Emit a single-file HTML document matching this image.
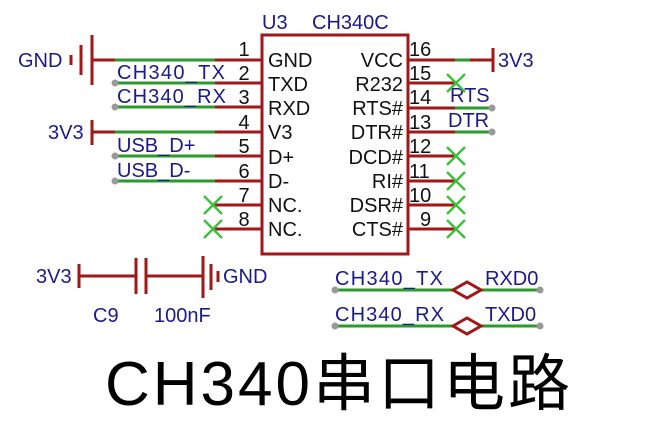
<!DOCTYPE html>
<html><head><meta charset="utf-8"><style>
body{margin:0;background:#fff}
svg{display:block}
text{font-family:"Liberation Sans","Noto Sans CJK SC",sans-serif}
.b{fill:#1a1a8c;font-size:20px}
.k{fill:#111;font-size:20px}
.r{stroke:#a01818;stroke-width:3;fill:none}
.g{stroke:#2a9a2a;stroke-width:3;fill:none}
.x{stroke:#3cc03c;stroke-width:2.5}
.d{fill:#999}
</style></head><body>
<svg width="672" height="433" viewBox="0 0 672 433">
<rect x="262" y="35" width="146" height="219" class="r"/>
<text x="262" y="29" class="b">U3</text>
<text x="312" y="29" class="b">CH340C</text>
<g>
<line x1="215" y1="60" x2="262" y2="60" class="r"/><line x1="92" y1="60" x2="115" y2="60" class="r"/><line x1="115" y1="60" x2="215" y2="60" class="g"/>
<line x1="215" y1="83" x2="262" y2="83" class="r"/><line x1="115" y1="83" x2="215" y2="83" class="g"/>
<line x1="215" y1="107" x2="262" y2="107" class="r"/><line x1="115" y1="107" x2="215" y2="107" class="g"/>
<line x1="215" y1="132" x2="262" y2="132" class="r"/><line x1="92" y1="132" x2="115" y2="132" class="r"/><line x1="115" y1="132" x2="215" y2="132" class="g"/>
<line x1="215" y1="156" x2="262" y2="156" class="r"/><line x1="115" y1="156" x2="215" y2="156" class="g"/>
<line x1="215" y1="181" x2="262" y2="181" class="r"/><line x1="115" y1="181" x2="215" y2="181" class="g"/>
<line x1="213" y1="205" x2="262" y2="205" class="r"/>
<line x1="213" y1="229" x2="262" y2="229" class="r"/>
</g>
<circle cx="115" cy="83" r="3.5" class="d"/><circle cx="115" cy="107" r="3.5" class="d"/>
<circle cx="115" cy="156" r="3.5" class="d"/><circle cx="115" cy="181" r="3.5" class="d"/>
<g class="x"><line x1="204" y1="196" x2="222" y2="214"/><line x1="222" y1="196" x2="204" y2="214"/>
<line x1="204" y1="220" x2="222" y2="238"/><line x1="222" y1="220" x2="204" y2="238"/></g>
<line x1="92" y1="35" x2="92" y2="85" class="r"/><line x1="81" y1="45" x2="81" y2="75" class="r"/><line x1="71" y1="55" x2="71" y2="65" class="r"/>
<text x="18" y="67" class="b">GND</text>
<line x1="92" y1="120" x2="92" y2="145" class="r"/>
<text x="48" y="139" class="b">3V3</text>
<text x="117" y="79" class="b" textLength="108">CH340_TX</text>
<text x="117" y="103" class="b" textLength="109">CH340_RX</text>
<text x="117" y="152" class="b">USB_D+</text>
<text x="117" y="177" class="b">USB_D-</text>
<g class="k" text-anchor="middle">
<text x="244" y="56">1</text><text x="244" y="80">2</text><text x="244" y="104">3</text><text x="244" y="129">4</text>
<text x="244" y="153">5</text><text x="244" y="178">6</text><text x="244" y="202">7</text><text x="244" y="226">8</text>
</g>
<g class="k">
<text x="268" y="67">GND</text><text x="268" y="91">TXD</text><text x="268" y="115">RXD</text><text x="268" y="139">V3</text>
<text x="268" y="164">D+</text><text x="268" y="188">D-</text><text x="268" y="212">NC.</text><text x="268" y="236">NC.</text>
</g>
<g class="k" text-anchor="end">
<text x="403" y="67">VCC</text><text x="403" y="91">R232</text><text x="403" y="115">RTS#</text><text x="403" y="139">DTR#</text>
<text x="403" y="164">DCD#</text><text x="403" y="188">RI#</text><text x="403" y="212">DSR#</text><text x="403" y="236">CTS#</text>
</g>
<g class="k">
<text x="409" y="56">16</text><text x="409" y="80">15</text><text x="409" y="104">14</text><text x="409" y="129">13</text>
<text x="409" y="153">12</text><text x="409" y="178">11</text><text x="409" y="202">10</text><text x="420" y="226">9</text>
</g>
<line x1="408" y1="60" x2="493" y2="60" class="r"/><line x1="455" y1="60" x2="470" y2="60" class="g"/>
<line x1="493" y1="48" x2="493" y2="72" class="r"/>
<text x="498" y="67" class="b">3V3</text>
<line x1="408" y1="83" x2="456" y2="83" class="r"/>
<line x1="408" y1="108" x2="455" y2="108" class="r"/><line x1="455" y1="108" x2="492" y2="108" class="g"/>
<line x1="408" y1="132" x2="455" y2="132" class="r"/><line x1="455" y1="132" x2="492" y2="132" class="g"/>
<circle cx="492" cy="108" r="3.5" class="d"/><circle cx="492" cy="132" r="3.5" class="d"/>
<text x="450" y="102" class="b">RTS</text><text x="448" y="127" class="b">DTR</text>
<line x1="408" y1="156" x2="456" y2="156" class="r"/><line x1="408" y1="181" x2="456" y2="181" class="r"/>
<line x1="408" y1="205" x2="456" y2="205" class="r"/><line x1="408" y1="229" x2="456" y2="229" class="r"/>
<g class="x">
<line x1="447" y1="74" x2="465" y2="92"/><line x1="465" y1="74" x2="447" y2="92"/>
<line x1="447" y1="147" x2="465" y2="165"/><line x1="465" y1="147" x2="447" y2="165"/>
<line x1="447" y1="172" x2="465" y2="190"/><line x1="465" y1="172" x2="447" y2="190"/>
<line x1="447" y1="196" x2="465" y2="214"/><line x1="465" y1="196" x2="447" y2="214"/>
<line x1="447" y1="220" x2="465" y2="238"/><line x1="465" y1="220" x2="447" y2="238"/>
</g>
<line x1="79" y1="276" x2="136" y2="276" class="r"/><line x1="146" y1="276" x2="203" y2="276" class="r"/>
<line x1="79" y1="264" x2="79" y2="288" class="r"/>
<line x1="136" y1="258" x2="136" y2="294" class="r"/><line x1="146" y1="258" x2="146" y2="294" class="r"/>
<line x1="203" y1="256" x2="203" y2="298" class="r"/><line x1="211" y1="264" x2="211" y2="290" class="r"/><line x1="218" y1="271" x2="218" y2="282" class="r"/>
<text x="36" y="283" class="b">3V3</text><text x="223" y="283" class="b">GND</text>
<text x="93" y="322" class="b">C9</text><text x="154" y="322" class="b">100nF</text>
<line x1="335" y1="290" x2="453" y2="290" class="g"/><line x1="481" y1="290" x2="540" y2="290" class="g"/>
<polygon points="453,290 467,282 481,290 467,298" fill="none" stroke="#a01818" stroke-width="3"/>
<line x1="335" y1="326" x2="453" y2="326" class="g"/><line x1="481" y1="326" x2="540" y2="326" class="g"/>
<polygon points="453,326 467,318 481,326 467,334" fill="none" stroke="#a01818" stroke-width="3"/>
<circle cx="335" cy="290" r="3.5" class="d"/><circle cx="540" cy="290" r="3.5" class="d"/>
<circle cx="335" cy="326" r="3.5" class="d"/><circle cx="540" cy="326" r="3.5" class="d"/>
<text x="335" y="285" class="b" textLength="108">CH340_TX</text><text x="485" y="285" class="b">RXD0</text>
<text x="335" y="321" class="b" textLength="109">CH340_RX</text><text x="485" y="321" class="b">TXD0</text>
<text x="105" y="405" style="font-size:62px;fill:#000" textLength="465">CH340串口电路</text>
</svg>
</body></html>
